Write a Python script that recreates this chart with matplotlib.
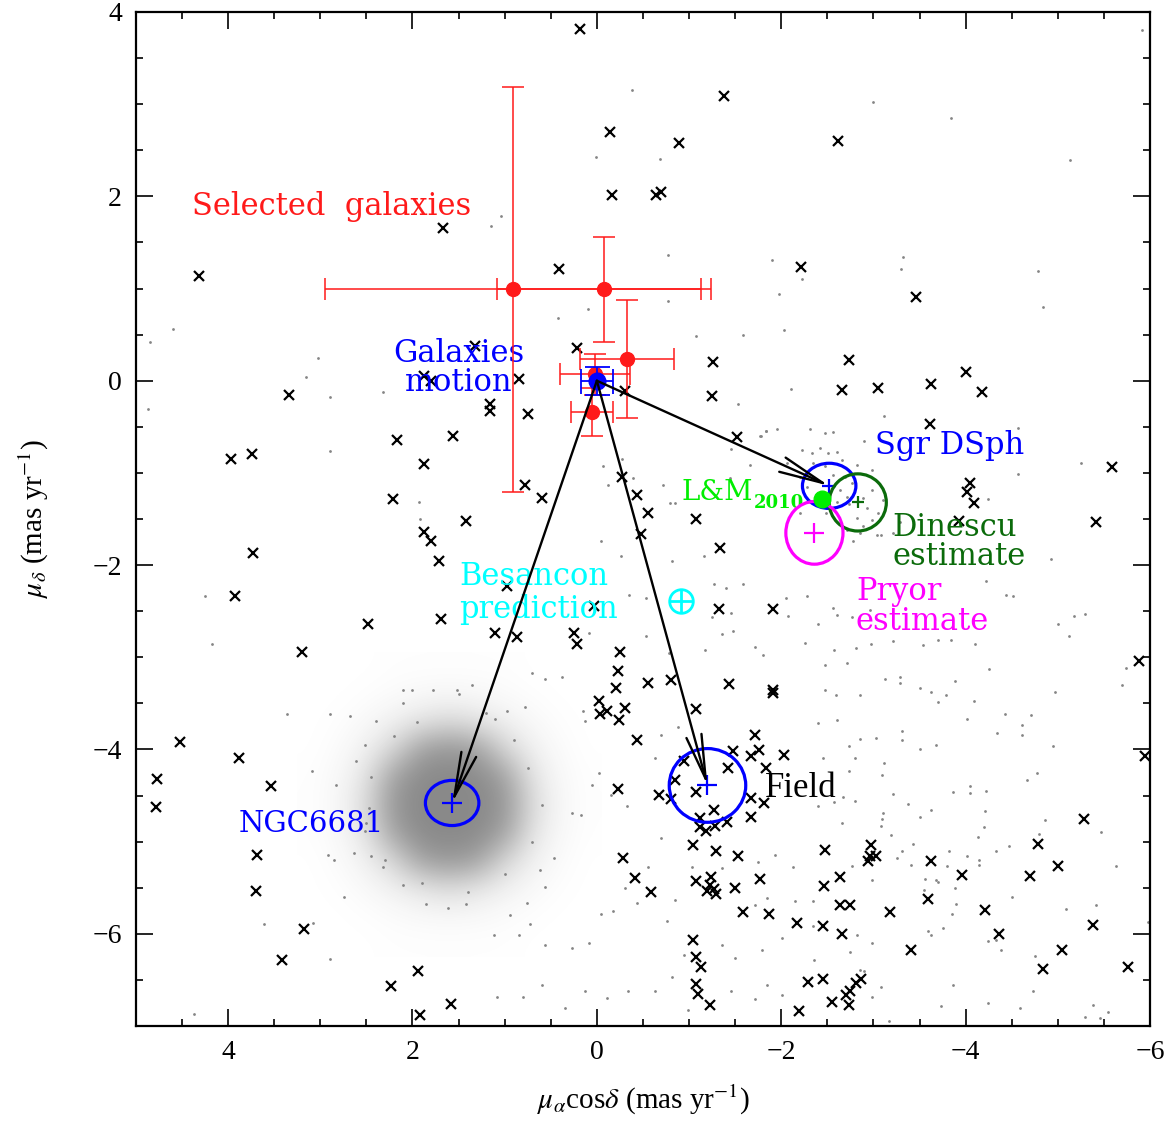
import numpy as np
import matplotlib
matplotlib.use('Agg')
import matplotlib.pyplot as plt
from matplotlib.patches import Ellipse
from matplotlib.colors import LinearSegmentedColormap

plt.rcParams['font.family'] = 'serif'
plt.rcParams['font.serif'] = ['Liberation Serif', 'DejaVu Serif']
plt.rcParams['mathtext.fontset'] = 'stix'

# --- selected background galaxies (red) ---
gal_x = [0.91, -0.08, -0.33, 0.02, 0.05]
gal_y = [0.99, 0.99, 0.24, 0.07, -0.34]
gal_xerr = [2.04, 1.16, 0.51, 0.38, 0.23]
gal_yerr = [2.20, 0.57, 0.64, 0.22, 0.26]

# mean galaxy motion (reference point)
mot_x, mot_y = 0.0, 0.0
mot_xerr, mot_yerr = 0.17, 0.15

# arrow targets: NGC6681, field, Sgr dSph
ngc = (1.57, -4.58)
field = (-1.20, -4.39)
sgr = (-2.52, -1.14)
ngc_size = (0.58, 0.49)
field_size = (0.83, 0.80)
sgr_size = (0.58, 0.49)

# literature estimates
dinescu = (-2.83, -1.32)
dinescu_size = (0.62, 0.62)
pryor = (-2.36, -1.65)
pryor_size = (0.62, 0.68)
lm2010 = (-2.44, -1.28)
besancon = (-0.91, -2.39)

# field stars with good astrometry (black crosses)
star_x = [0.18, -1.38, -0.14, -0.89, -2.62, -0.16, -0.64, -0.70, 1.67, 4.32,
          0.41, -2.21, -3.46, 0.22, -1.26, -2.74, -2.66, -3.05, -3.63, -4.00,
          -4.18, -3.61, -5.59, -4.05, -4.01, -4.09, -3.93, -5.41, 1.32, 0.85,
          1.16, 1.16, 0.75, -0.31, -1.25, -1.52, 0.78, 0.59, -0.27, -0.44,
          -0.56, -1.08, 3.34, 3.97, 3.74, 2.17, 1.87, 1.56, 2.21, 1.42,
          1.87, 1.80, 1.87, 1.80, 1.71, 3.73, 3.93, 2.48, 1.69, 3.20,
          4.52, 3.88, 4.77, 4.78, 3.54, 3.69, 3.70, 3.18, 3.42, 1.94,
          2.23, 1.58, 1.92, -0.48, -1.34, 0.98, 0.03, -1.32, -1.91, 1.11,
          0.87, 0.25, 0.22, -0.25, -0.23, -0.21, -0.55, -0.80, -1.43, -1.91,
          -1.91, -0.02, -0.03, -0.11, -0.30, -0.24, -1.07, -0.44, -1.72, -1.76,
          -1.67, -2.03, -1.48, -1.83, -1.42, -0.95, -0.85, -0.23, -0.67, -0.80,
          -1.08, -1.27, -1.67, -1.81, -1.67, -1.12, -1.12, -1.18, -1.28, -1.41,
          -1.04, -1.29, -1.53, -0.28, -0.41, -0.59, -1.07, -1.24, -1.23, -1.27,
          -1.19, -1.29, -1.50, -1.77, -1.58, -1.87, -2.17, -1.04, -1.08, -1.13,
          -1.08, -1.10, -1.23, -2.29, -2.19, -5.88, -5.95, -5.28, -4.78, -5.00,
          -4.70, -2.47, -2.97, -2.96, -3.03, -2.94, -3.63, -3.96, -2.64, -2.46,
          -2.64, -2.75, -3.18, -3.59, -4.21, -2.45, -2.66, -4.36, -5.38, -3.41,
          -5.05, -4.84, -5.76, -2.45, -2.55, -2.70, -2.75, -2.81, -2.86, -2.74]
star_y = [3.82, 3.09, 2.70, 2.58, 2.60, 2.01, 2.01, 2.05, 1.66, 1.14,
          1.21, 1.23, 0.91, 0.35, 0.20, 0.22, -0.10, -0.08, -0.04, 0.09,
          -0.12, -0.47, -0.94, -1.11, -1.21, -1.33, -1.52, -1.53, 0.38, 0.02,
          -0.25, -0.33, -0.36, -0.11, -0.17, -0.61, -1.13, -1.27, -1.04, -1.24,
          -1.44, -1.50, -0.15, -0.85, -0.80, -0.64, -0.90, -0.60, -1.28, -1.52,
          -1.64, -1.74, 0.05, 0.00, -1.95, -1.87, -2.34, -2.64, -2.58, -2.94,
          -3.92, -4.09, -4.32, -4.62, -4.40, -5.14, -5.53, -5.95, -6.28, -6.40,
          -6.57, -6.76, -6.88, -1.66, -1.81, -2.23, -2.44, -2.48, -2.48, -2.74,
          -2.78, -2.74, -2.86, -2.94, -3.15, -3.33, -3.28, -3.25, -3.29, -3.35,
          -3.39, -3.47, -3.62, -3.58, -3.55, -3.68, -3.56, -3.90, -3.84, -4.01,
          -4.07, -4.06, -4.02, -4.20, -4.20, -4.12, -4.33, -4.43, -4.49, -4.54,
          -4.46, -4.66, -4.53, -4.58, -4.73, -4.74, -4.84, -4.88, -4.83, -4.79,
          -5.04, -5.10, -5.15, -5.18, -5.39, -5.55, -5.43, -5.38, -5.47, -5.51,
          -5.53, -5.57, -5.50, -5.40, -5.76, -5.78, -5.88, -6.07, -6.25, -6.36,
          -6.54, -6.65, -6.77, -6.52, -6.84, -3.04, -4.07, -4.75, -5.02, -5.26,
          -5.37, -5.09, -5.04, -5.15, -5.15, -5.21, -5.21, -5.36, -5.38, -5.48,
          -5.69, -5.69, -5.76, -5.62, -5.74, -5.91, -6.00, -6.00, -5.90, -6.17,
          -6.18, -6.38, -6.36, -6.49, -6.74, -6.66, -6.62, -6.53, -6.49, -6.77]

# all other stars (grey dots)
dot_x = [4.60, 4.85, 3.02, 3.15, 2.90, 2.32, 4.87, 2.89, 1.93, 1.92,
         -0.38, 0.01, -0.68, 1.04, 1.15, -0.77, -1.90, -2.22, -1.98, -0.77,
         0.10, 0.42, -2.03, -1.08, -1.58, -2.11, -1.53, -1.95, -1.84, -1.78,
         -1.46, -2.31, -1.66, -0.27, -0.07, -0.39, -0.12, -0.72, -0.79, -0.85,
         -1.44, -5.91, -3.00, -3.84, -5.13, -3.32, -3.30, -4.79, -4.84, -3.12,
         -2.48, -4.57, -2.90, -5.25, -4.57, -4.24,
         -1.77, -1.84, -2.33, -2.42, -2.51, -2.60, -2.34, -2.47, -2.66, -2.56,
         -2.69, -2.77, -2.64, -2.71, -2.60, -2.74, -2.89, -2.93, -2.82, -2.99,
         -3.05, -2.99, -2.89, -2.85, -3.04, -2.49, -2.28, -2.20, -2.06, -2.99,
         -3.21, -3.29, -2.20, -2.71, -2.82, -2.23, -3.10, -2.56,
         4.25, 4.18, 3.36, 2.90, 2.68, 3.09, 2.83, 4.37, 3.61, 3.08,
         2.90, 2.74, 2.92, 2.85, 2.64, 2.45,
         1.95, 2.20, 1.20, 0.90, 0.75, 0.60, 0.70, 1.00, 1.40, 1.90,
         2.30, 2.50, 2.45, 2.10, 1.50, 1.35,
         2.10, 2.00, 1.78, 1.52, 2.40, 2.51, 2.61, 2.47, 2.51, 2.32,
         2.10, 1.85, 1.61, 1.42,
         -0.04, -0.26, -0.81, -1.16, -1.27, -1.40, -1.58, -0.35, -0.53, -2.05,
         -2.28, -2.07, -1.25, -1.46, -1.48, -1.36, 0.08, -0.53, -0.78, -1.17,
         -1.72, -1.80, -2.26, 0.70, 0.56, 0.38, 0.78, 0.97, 1.11, 0.15,
         0.13, -0.88, -0.70, -0.63, -0.02, 0.05, -0.15, -0.33, 0.17, 0.27,
         0.46, 0.62, 0.56, 0.76, 0.94, 1.12, 0.84, 0.72, 0.56, 0.27,
         0.08, -0.05, -0.17, -0.43, -0.76, -0.85, -1.03, -0.70, -0.55, -0.30,
         -1.36, -1.75, -1.93, -2.13, -1.85, -1.72, -2.15, -2.01, -1.79, -1.50,
         -1.36, -0.95, -0.82, -0.63, -0.34, -0.11, 0.13, 0.35, 0.60, 0.80,
         1.08, -1.71, -2.01, -1.85, -1.46, -0.99,
         -2.78, -3.08, -2.56, -2.60, -2.77, -2.96, -2.40, -2.81, -2.97, -3.21,
         -3.54, -3.70, -3.84, -4.10, -4.22, -4.44, -4.51, -4.93, -5.00, -5.18,
         -5.29, -5.12, -2.57, -2.47, -2.71, -3.13, -3.29, -3.29, -3.51, -3.62,
         -3.88, -4.25, -3.70, -4.09, -3.79, -4.97, -5.70, -5.74, -2.59, -2.48,
         -2.85, -2.40, -2.60, -3.03, -3.31, -3.31, -2.85, -2.73, -3.68, -3.51,
         -4.02, -4.34, -4.43, -4.61, -4.71, -4.61, -4.95, -2.45, -2.80, -3.11,
         -2.74, -3.09, -3.21, -2.67, -2.80, -2.57, -2.40, -3.86, -4.05, -4.05,
         -4.22, -4.67, -4.77, -3.10, -3.09, -3.38, -3.51, -3.62, -3.08, -2.66,
         -3.19, -3.43, -3.31, -3.26, -3.41, -3.56, -3.68, -3.80, -3.82, -4.02,
         -4.14, -4.14, -4.33, -4.47, -4.13, -4.21, -4.20, -4.80, -4.86, -5.47,
         -5.63, -2.99, -2.77, -3.89, -3.90, -3.85, -3.75, -3.59, -3.63, -3.70,
         -3.55, -4.24, -4.33, -4.38, -4.50, -4.75, -4.73, -4.59, -4.24, -3.86,
         -3.73, -3.17, -3.08, -2.99, -2.85, -2.90, -2.82, -2.75, -2.99, -2.36,
         -5.41, -5.09, -5.30, -5.46, -5.54, -5.38, -5.98, -2.34, -2.34]
dot_y = [0.56, 0.42, 0.25, 0.04, -0.18, -0.12, -0.31, -0.76, -1.32, -1.50,
         3.15, 2.43, 2.41, 1.79, 1.68, 1.36, 1.31, 1.10, 0.94, 0.87,
         0.78, 0.68, 0.55, 0.49, 0.50, -0.09, -0.25, -0.52, -0.54, -0.60,
         -0.74, -0.52, -0.91, -0.85, -0.92, -1.05, -1.13, -1.13, -1.33, -1.33,
         -1.06, 3.80, 3.02, 2.85, 2.39, 1.34, 1.21, 1.19, 0.80, -0.38,
         -0.57, -0.51, -0.65, -0.89, -1.01, -1.28,
         -0.60, -0.55, -0.78, -0.73, -0.78, -0.77, -0.89, -0.93, -0.86, -1.02,
         -1.04, -1.11, -1.18, -1.26, -1.32, -1.34, -1.27, -1.38, -1.49, -1.51,
         -1.43, -1.18, -1.58, -1.65, -1.67, -1.43, -1.15, -1.04, -0.89, -0.97,
         -1.65, -1.53, -1.43, -1.62, -0.91, -0.75, -1.29, -0.56,
         -2.34, -2.86, -3.62, -3.61, -3.64, -4.23, -4.38, -6.87, -5.89, -5.88,
         -6.27, -5.60, -5.14, -5.20, -5.12, -5.16,
         -3.70, -3.85, -3.60, -3.90, -4.20, -4.60, -5.00, -5.35, -5.55, -5.45,
         -5.20, -4.80, -4.30, -3.50, -3.40, -3.30,
         -3.36, -3.35, -3.36, -3.35, -3.69, -3.95, -4.12, -4.63, -4.88, -5.28,
         -5.47, -5.68, -5.72, -5.68,
         -1.74, -1.90, -1.95, -1.90, -2.21, -2.25, -2.21, -2.32, -2.36, -2.36,
         -2.34, -2.55, -2.56, -2.52, -2.71, -2.75, -2.74, -2.77, -2.95, -2.92,
         -2.89, -2.98, -2.85, -3.17, -3.24, -3.21, -3.54, -3.58, -3.67, -3.58,
         -3.69, -3.76, -3.84, -4.09, -4.26, -4.39, -4.49, -4.61, -4.71, -4.69,
         -5.18, -5.31, -5.49, -5.67, -5.79, -6.01, -6.01, -5.89, -6.12, -6.15,
         -6.10, -5.78, -5.75, -5.67, -5.86, -5.63, -5.28, -4.96, -5.28, -5.50,
         -5.29, -5.22, -5.14, -5.27, -5.61, -5.69, -5.64, -6.04, -6.18, -6.26,
         -6.12, -6.23, -6.47, -6.62, -6.62, -6.70, -6.62, -6.80, -6.55, -6.69,
         -6.69, -6.71, -6.66, -6.55, -6.62, -6.83,
         -1.74, -1.67, -2.46, -2.54, -2.56, -2.49, -2.64, -2.90, -2.86, -2.82,
         -2.87, -2.81, -2.81, -2.86, -2.17, -2.32, -2.34, -1.93, -2.64, -2.55,
         -2.53, -2.77, -2.92, -3.08, -3.06, -3.24, -3.21, -3.28, -3.33, -3.38,
         -3.26, -3.13, -3.48, -3.47, -3.41, -3.38, -3.30, -3.12, -3.41, -3.35,
         -3.41, -3.71, -3.68, -3.87, -3.80, -3.90, -3.89, -3.96, -3.95, -3.99,
         -3.67, -3.82, -3.62, -3.73, -3.63, -3.84, -3.96, -4.09, -4.09, -4.15,
         -4.23, -4.28, -4.48, -4.52, -4.56, -4.57, -4.61, -4.46, -4.47, -4.40,
         -4.45, -4.33, -4.25, -4.69, -4.75, -4.59, -4.73, -4.66, -4.83, -4.80,
         -4.93, -5.03, -5.10, -5.18, -5.25, -5.41, -5.42, -5.26, -5.10, -5.16,
         -5.20, -5.25, -5.10, -5.05, -4.95, -4.67, -4.84, -4.92, -4.76, -4.90,
         -5.26, -5.42, -5.26, -5.50, -5.68, -5.78, -5.94, -5.97, -6.01, -5.44,
         -5.52, -6.08, -6.07, -6.17, -5.60, -6.24, -6.62, -6.80, -6.75, -6.55,
         -6.78, -6.94, -6.58, -6.69, -6.39, -6.40, -6.01, -6.20, -6.10, -6.28,
         -5.69, -5.73, -6.90, -6.91, -6.85, -6.77, -5.87, -5.64, -5.91]

# NGC6681 member density (fraction of sky covered by dots), 0.3 mas/yr cells
cloud_xc = [3.1, 2.8, 2.5, 2.2, 1.9, 1.6, 1.3, 1.0, 0.7, 0.4, 0.1]
cloud_yc = [-3.1, -3.4, -3.7, -4.0, -4.3, -4.6, -4.9, -5.2, -5.5, -5.8, -6.1]
cloud = np.array([
    [0.00, 0.00, 0.00, 0.01, 0.01, 0.01, 0.01, 0.01, 0.00, 0.00, 0.00],
    [0.00, 0.00, 0.01, 0.03, 0.05, 0.06, 0.05, 0.03, 0.01, 0.00, 0.00],
    [0.00, 0.01, 0.05, 0.12, 0.22, 0.30, 0.22, 0.12, 0.05, 0.01, 0.00],
    [0.00, 0.03, 0.12, 0.35, 0.80, 0.90, 0.80, 0.35, 0.12, 0.03, 0.00],
    [0.01, 0.05, 0.22, 0.80, 1.00, 1.00, 1.00, 0.80, 0.22, 0.05, 0.01],
    [0.01, 0.06, 0.30, 0.90, 1.00, 1.00, 1.00, 0.90, 0.30, 0.06, 0.01],
    [0.01, 0.05, 0.22, 0.80, 1.00, 1.00, 1.00, 0.80, 0.22, 0.05, 0.01],
    [0.00, 0.03, 0.12, 0.35, 0.80, 0.90, 0.80, 0.35, 0.12, 0.03, 0.00],
    [0.00, 0.01, 0.05, 0.12, 0.22, 0.30, 0.22, 0.12, 0.05, 0.01, 0.00],
    [0.00, 0.00, 0.01, 0.03, 0.05, 0.06, 0.05, 0.03, 0.01, 0.00, 0.00],
    [0.00, 0.00, 0.00, 0.01, 0.01, 0.01, 0.01, 0.01, 0.00, 0.00, 0.00],
])

fig = plt.figure(figsize=(11.75, 11.21), dpi=100)
ax = fig.add_axes([0.1157, 0.0847, 0.8630, 0.9046])

grey = '#858585'
step = 0.3
cmap = LinearSegmentedColormap.from_list('cloud', [(0.54, 0.54, 0.54, 0.0),
                                                   (0.54, 0.54, 0.54, 1.0)])
ax.imshow(cloud, cmap=cmap, vmin=0, vmax=1, interpolation='bicubic',
          extent=(cloud_xc[0] + step / 2, cloud_xc[-1] - step / 2,
                  cloud_yc[-1] - step / 2, cloud_yc[0] + step / 2),
          aspect='auto', zorder=1)

ax.plot(dot_x, dot_y, 'o', color=grey, ms=2.0, mew=0, zorder=1)
ax.plot(star_x, star_y, 'x', color='k', ms=6.5, mew=1.6, zorder=2)

# galaxies
ax.errorbar(gal_x, gal_y, xerr=gal_xerr, yerr=gal_yerr, fmt='o', color='#ff1a1a',
            ms=10, elinewidth=1.1, capsize=8, capthick=1.1, zorder=4)
ax.errorbar([mot_x], [mot_y], xerr=[mot_xerr], yerr=[mot_yerr], fmt='o', color='#0000ff',
            ms=12, elinewidth=1.3, capsize=9, capthick=1.3, zorder=5)

# relative motions
for tgt in [ngc, field, sgr]:
    ax.annotate('', xy=tgt, xytext=(mot_x, mot_y),
                arrowprops=dict(arrowstyle='->,head_length=1.6,head_width=0.28',
                                color='k', lw=1.7, shrinkA=0, shrinkB=0,
                                mutation_scale=20), zorder=6)

for c, s in [(ngc, ngc_size), (field, field_size), (sgr, sgr_size)]:
    ax.add_patch(Ellipse(c, s[0], s[1], fill=False, ec='#0000ff', lw=2.3, zorder=5))
ax.plot([ngc[0], field[0]], [ngc[1], field[1]], '+', color='#0000ff', ms=15, mew=1.6, zorder=5)
ax.plot([sgr[0]], [sgr[1]], '+', color='#0000ff', ms=10, mew=1.6, zorder=5)

ax.add_patch(Ellipse(dinescu, dinescu_size[0], dinescu_size[1], fill=False,
                     ec='#0b6b0b', lw=2.3, zorder=5))
ax.plot([dinescu[0]], [dinescu[1]], '+', color='#0b6b0b', ms=8, mew=1.6, zorder=5)
ax.add_patch(Ellipse(pryor, pryor_size[0], pryor_size[1], fill=False,
                     ec='#ff00ff', lw=2.3, zorder=5))
ax.plot([pryor[0]], [pryor[1]], '+', color='#ff00ff', ms=15, mew=1.6, zorder=5)
ax.plot([lm2010[0]], [lm2010[1]], 'o', color='#00ee00', ms=12, zorder=5)
ax.plot([besancon[0]], [besancon[1]], 'o', mfc='none', mec='#00ffff', ms=17, mew=2, zorder=5)
ax.plot([besancon[0]], [besancon[1]], '+', color='#00ffff', ms=17, mew=2, zorder=5)

# multi-line labels are placed by the baseline of their last line
lab = dict(family='DejaVu Serif', fontsize=22, va='baseline')
ax.text(4.39, 1.80, 'Selected  galaxies', color='#ff1a1a', **lab)
ax.text(1.50, -0.11, 'Galaxies\nmotion', color='#0000ff', ha='center',
        multialignment='center', linespacing=0.93, **lab)
ax.text(-3.02, -0.80, 'Sgr DSph', color='#0000ff', **lab)
ax.text(-0.92, -1.29, 'L&M', color='#00ee00', family='DejaVu Serif', fontsize=20)
ax.text(-1.70, -1.38, '2010', color='#00ee00', family='DejaVu Serif', fontsize=13,
        fontweight='bold')
ax.text(-3.21, -2.00, 'Dinescu\nestimate', color='#0b6b0b', linespacing=0.93, **lab)
ax.text(-2.81, -2.70, 'Pryor\nestimate', color='#ff00ff', linespacing=0.93, **lab)
ax.text(1.49, -2.57, 'Besancon\nprediction', color='#00ffff', linespacing=1.08, **lab)
ax.text(3.89, -4.90, 'NGC6681', color='#0000ff', family='DejaVu Serif', fontsize=21)
ax.text(-1.82, -4.51, 'Field', color='k', fontsize=25)

ax.set_xlim(5, -6)
ax.set_ylim(-7, 4)
ax.set_xticks([4, 2, 0, -2, -4, -6])
ax.set_yticks([4, 2, 0, -2, -4, -6])
ax.set_xticks(np.arange(-6, 5.01, 0.5), minor=True)
ax.set_yticks(np.arange(-7, 4.01, 0.5), minor=True)
ax.tick_params(which='both', direction='in', top=True, right=True, width=1.2,
               labelsize=20)
ax.tick_params(which='major', length=12, pad=10)
ax.tick_params(which='minor', length=5)
for sp in ax.spines.values():
    sp.set_linewidth(1.6)

ax.set_xlabel(r'$\mu_{\alpha}$cos$\delta$ (mas yr$^{-1}$)', fontsize=21, labelpad=13)
ax.set_ylabel(r'$\mu_{\delta}$ (mas yr$^{-1}$)', fontsize=21, labelpad=30)

fig.savefig('out.png', dpi=100)
